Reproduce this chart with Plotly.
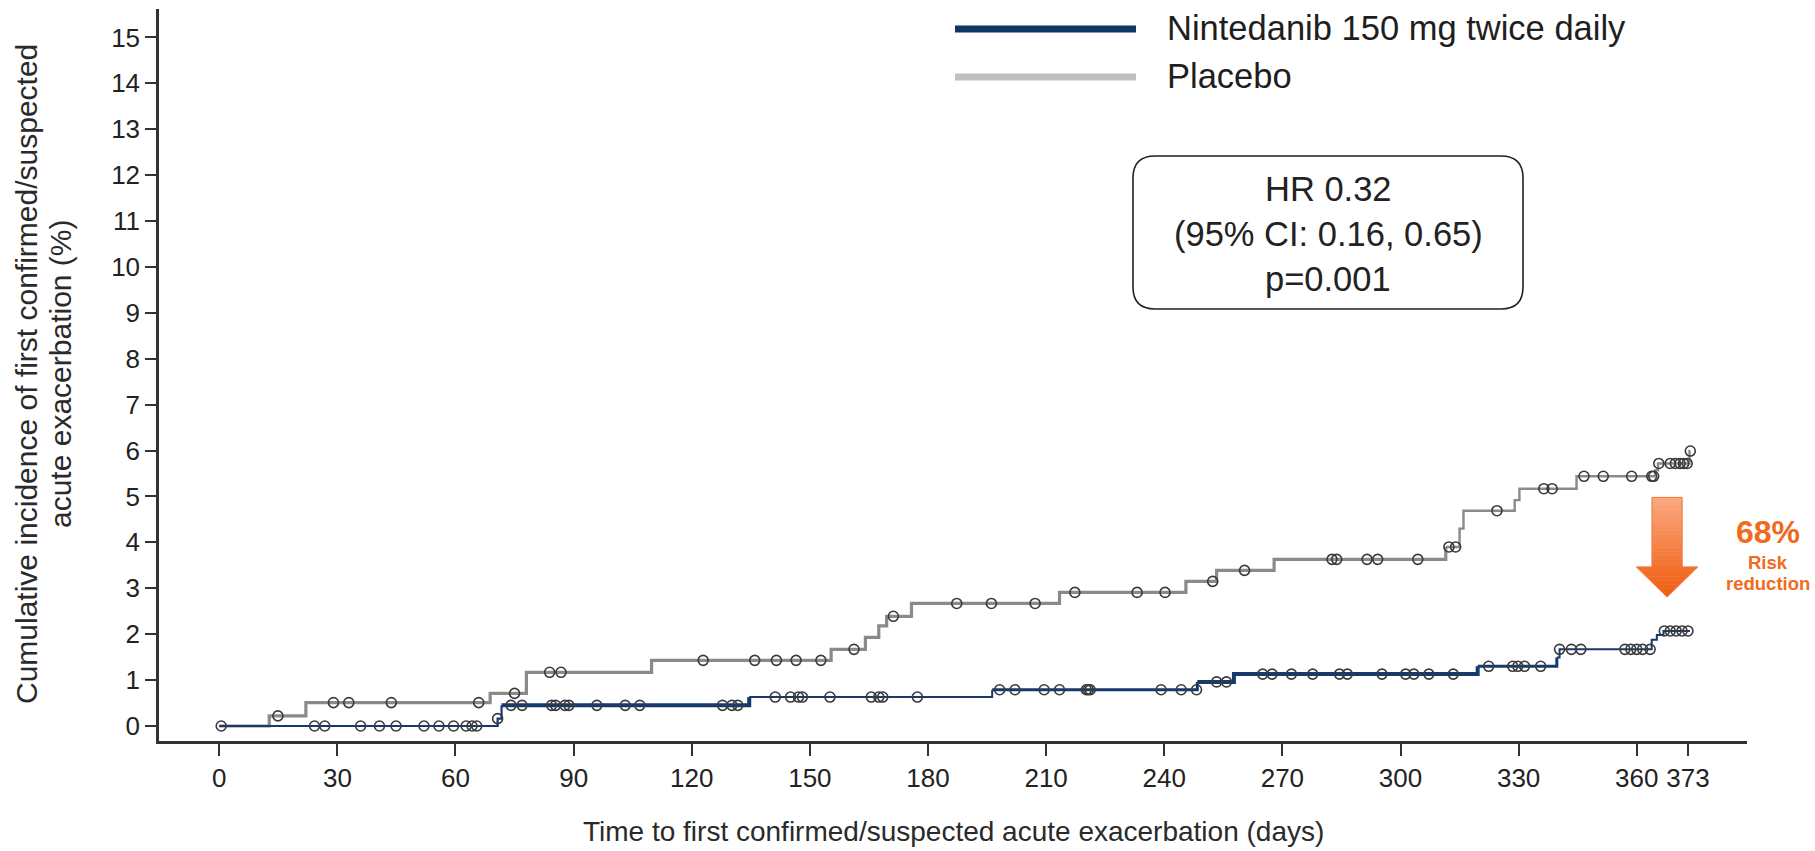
import plotly.graph_objects as go

# ---------------- data ----------------
x_tick_vals = [0, 30, 60, 90, 120, 150, 180, 210, 240, 270, 300, 330, 360, 373]
y_tick_vals = list(range(0, 16))

placebo_name = "Placebo"
placebo_step_days = [12.7, 22, 68.8, 78, 109.8, 155.4, 164.1, 167.5, 169.5, 175.8,
                     213.4, 245.5, 253.3, 267.9, 311.5, 315.0, 316.0, 329.0, 330.2,
                     344.7, 364.7, 365.4, 373.4]
placebo_step_vals = [0.22, 0.51, 0.71, 1.17, 1.43, 1.67, 1.93, 2.18, 2.39, 2.67,
                     2.91, 3.15, 3.39, 3.63, 3.90, 4.30, 4.69, 4.92, 5.17,
                     5.44, 5.57, 5.72, 5.99]
placebo_end_day = 373.6
placebo_censor_days = [14.9, 29, 32.9, 43.7, 65.9, 75, 83.9, 86.8, 122.9, 136.0,
                       141.5, 146.5, 152.8, 161.2, 171.2, 187.3, 196.1, 207.2, 217.3,
                       233.1, 240.2, 252.3, 260.4, 282.6, 283.8, 291.5, 294.2, 304.4,
                       312.3, 314.0, 324.5, 336.4, 338.5, 346.6, 351.5, 358.7, 363.8,
                       364.3, 365.6, 368.5, 369.8, 371.0, 371.9, 372.8, 373.6]

nint_name = "Nintedanib 150 mg twice daily"
nint_step_days = [70.7, 71.7, 134.6, 196.3, 248.4, 257.7, 319.6, 339.7, 340.4,
                  363.8, 365.1, 366.8]
nint_step_vals = [0.16, 0.45, 0.63, 0.79, 0.96, 1.13, 1.30, 1.49, 1.67,
                  1.88, 1.98, 2.07]
nint_end_day = 373.5
nint_censor_days = [0.5, 24.2, 26.8, 35.9, 40.7, 44.9, 52, 55.8, 59.5, 62.7, 64.2,
                    65.4, 70.7, 74.1, 76.9, 84.4, 85.4, 87.8, 88.8, 95.9, 103.1,
                    106.8, 127.8, 130.2, 131.7, 141.2, 145.1, 147.1, 148.1, 155.1,
                    165.6, 167.5, 168.5, 177.3, 198.2, 202.1, 209.5, 213.4, 220.2,
                    220.7, 221.2, 239.2, 244.3, 248.2, 253.3, 255.8, 265, 267.4,
                    272.3, 277.7, 284.5, 286.5, 295.3, 301.3, 303.4, 307.2, 313.4,
                    322.4, 328.5, 329.8, 331.5, 335.6, 340.4, 343.4, 345.8, 357,
                    358.5, 360, 361.5, 363.4, 367, 368.5, 370, 371.5, 373]

stats_lines = ["HR 0.32", "(95% CI: 0.16, 0.65)", "p=0.001"]
risk_pct = "68%"
risk_lines = ["Risk", "reduction"]
# arrow spans from (about) placebo level to nintedanib level at end of follow-up
arrow_day = 367.7
arrow_top_val = 4.98
arrow_tip_val = 2.81

x_title = "Time to first confirmed/suspected acute exacerbation (days)"
y_title_lines = ["Cumulative incidence of first confirmed/suspected",
                 "acute exacerbation (%)"]

# ---------------- styles ----------------
FONT = "Liberation Sans, Arial, Helvetica, sans-serif"
NAVY = "#163a6c"
PLAC = "#8a8a8a"
LEG_NAVY = "#0f3466"
LEG_GREY = "#c0c0c0"
ORANGE = "#F26A1B"
W, H = 1815, 851
L, R, T, B = 159, 1747, 9, 741
PW, PH = R - L, B - T

nint_widths = [(0, 2.2), (71, 4.0), (134, 2.0), (196, 3.0), (248, 4.0), (319, 3.0), (339, 2.0)]
plac_widths = [(0, 3.2), (311, 2.4)]


def pxx(x):
    return (x - L) / PW


def pxy(y):
    return (B - y) / PH


def curve_value(days, vals, t):
    v = 0.0
    for d, val in zip(days, vals):
        if d <= t + 0.05:
            v = val
    return v


def width_for(breaks, t):
    w = breaks[0][1]
    for b, ww in breaks:
        if t >= b:
            w = ww
    return w


def step_traces(days, vals, end_day, color, breaks):
    xs = [0] + list(days) + [end_day]
    ys = [0] + list(vals) + [vals[-1]]
    n_levels = len(xs) - 1
    groups = []
    cur = [0]
    for i in range(1, n_levels):
        if width_for(breaks, xs[i]) == width_for(breaks, xs[cur[0]]):
            cur.append(i)
        else:
            groups.append(cur)
            cur = [i]
    groups.append(cur)
    traces = []
    for g in groups:
        i, j = g[0], g[-1]
        traces.append(go.Scatter(
            x=xs[i:j + 2], y=ys[i:j + 2], mode="lines",
            line=dict(color=color, width=width_for(breaks, xs[i]), shape="hv"),
            hoverinfo="skip", showlegend=False))
    return traces


fig = go.Figure()
for tr in step_traces(placebo_step_days, placebo_step_vals, placebo_end_day, PLAC, plac_widths):
    fig.add_trace(tr)
for tr in step_traces(nint_step_days, nint_step_vals, nint_end_day, NAVY, nint_widths):
    fig.add_trace(tr)

marker_style = dict(symbol="circle-open", size=10, color="#3a3a3a", line=dict(width=1.6, color="#3a3a3a"))
fig.add_trace(go.Scatter(
    x=placebo_censor_days,
    y=[curve_value(placebo_step_days, placebo_step_vals, t) for t in placebo_censor_days],
    mode="markers", marker=marker_style, name=placebo_name + " (censored)", showlegend=False))
fig.add_trace(go.Scatter(
    x=nint_censor_days,
    y=[curve_value(nint_step_days, nint_step_vals, t) for t in nint_censor_days],
    mode="markers", marker=marker_style, name=nint_name + " (censored)", showlegend=False))

shapes = []
annotations = []

# ---- legend drawn manually (long thick lines) ----
for name, col, yy in [(nint_name, LEG_NAVY, 29), (placebo_name, LEG_GREY, 77)]:
    shapes.append(dict(type="line", xref="paper", yref="paper",
                       x0=pxx(955), x1=pxx(1136), y0=pxy(yy), y1=pxy(yy),
                       line=dict(color=col, width=7)))
    annotations.append(dict(text=name, xref="paper", yref="paper", x=pxx(1165), y=pxy(yy - 1),
                            xanchor="left", yanchor="middle", showarrow=False,
                            font=dict(family=FONT, size=34.5, color="#1e1e1e")))

# ---- rounded stats box ----
bx0, bx1, by0, by1 = pxx(1133), pxx(1523), pxy(309), pxy(156)
rx, ry = 22 / PW, 22 / PH
box_path = (f"M {bx0+rx},{by1} L {bx1-rx},{by1} Q {bx1},{by1} {bx1},{by1-ry} "
            f"L {bx1},{by0+ry} Q {bx1},{by0} {bx1-rx},{by0} L {bx0+rx},{by0} "
            f"Q {bx0},{by0} {bx0},{by0+ry} L {bx0},{by1-ry} Q {bx0},{by1} {bx0+rx},{by1} Z")
shapes.append(dict(type="path", xref="paper", yref="paper", path=box_path,
                   line=dict(color="#222222", width=1.6), fillcolor="rgba(255,255,255,0)"))
for k, txt in enumerate(stats_lines):
    annotations.append(dict(text=txt, xref="paper", yref="paper", x=pxx(1328), y=pxy(189 + 45 * k),
                            xanchor="center", yanchor="middle", showarrow=False,
                            font=dict(family=FONT, size=34.5, color="#222222")))

# ---- gradient arrow (data coordinates) ----
px_per_day = PW / (388.0 + 15.3)
px_per_val = PH / (15.62 + 0.327)
shaft_half = 15.0 / px_per_day
head_half = 30.5 / px_per_day
head_start = arrow_tip_val + 30.0 / px_per_val
top_c = (251, 168, 128)
bot_c = (240, 92, 14)
nb = 24


def half_width(v):
    if v >= head_start:
        return shaft_half
    return head_half * (v - arrow_tip_val) / (head_start - arrow_tip_val)


cuts = [arrow_top_val - (arrow_top_val - arrow_tip_val) * k / nb for k in range(nb + 1)]
for k in range(nb):
    v_hi, v_lo = cuts[k], cuts[k + 1]
    pts_v = [v_hi]
    if v_hi > head_start > v_lo:
        pts_v.append(head_start)
    pts_v.append(v_lo)
    left = []
    right = []
    for v in pts_v:
        if v == head_start and v_hi > head_start:
            left.append((arrow_day - shaft_half, v))
            left.append((arrow_day - head_half, v))
            right.append((arrow_day + shaft_half, v))
            right.append((arrow_day + head_half, v))
        else:
            hw = half_width(v) if v < head_start else shaft_half
            if v == head_start:
                hw = head_half
            left.append((arrow_day - hw, v))
            right.append((arrow_day + hw, v))
    poly = left + right[::-1]
    path = "M " + " L ".join(f"{a},{b}" for a, b in poly) + " Z"
    f = (k + 0.5) / nb
    c = tuple(int(round(top_c[i] + (bot_c[i] - top_c[i]) * f)) for i in range(3))
    shapes.append(dict(type="path", xref="x", yref="y", path=path,
                       fillcolor=f"rgb{c}", line=dict(width=0.6, color=f"rgb{c}"), layer="above"))
outline = [(arrow_day - shaft_half, arrow_top_val), (arrow_day + shaft_half, arrow_top_val),
           (arrow_day + shaft_half, head_start), (arrow_day + head_half, head_start),
           (arrow_day, arrow_tip_val), (arrow_day - head_half, head_start),
           (arrow_day - shaft_half, head_start)]
shapes.append(dict(type="path", xref="x", yref="y",
                   path="M " + " L ".join(f"{a},{b}" for a, b in outline) + " Z",
                   line=dict(color="#ef7a3c", width=1), fillcolor="rgba(0,0,0,0)", layer="above"))

annotations.append(dict(text=f"<b>{risk_pct}</b>", xref="paper", yref="paper", x=pxx(1768), y=pxy(532),
                        xanchor="center", yanchor="middle", showarrow=False,
                        font=dict(family=FONT, size=32, color=ORANGE)))
for k, txt in enumerate(risk_lines):
    annotations.append(dict(text=f"<b>{txt}</b>", xref="paper", yref="paper", x=pxx(1768), y=pxy(562 + 21 * k),
                            xanchor="center", yanchor="middle", showarrow=False,
                            font=dict(family=FONT, size=18.5, color=ORANGE)))

# ---- axis titles ----
annotations.append(dict(text=x_title, xref="paper", yref="paper", x=0.5, y=pxy(831),
                        xanchor="center", yanchor="middle", showarrow=False,
                        font=dict(family=FONT, size=28, color="#2a2a2a")))
for k, txt in enumerate(y_title_lines):
    annotations.append(dict(text=txt, xref="paper", yref="paper", x=pxx(26 + 34 * k), y=pxy(374),
                            xanchor="center", yanchor="middle", showarrow=False, textangle=-90,
                            font=dict(family=FONT, size=30, color="#2a2a2a")))

fig.update_layout(
    width=W, height=H,
    margin=dict(l=L, r=W - R, t=T, b=H - B, pad=0),
    paper_bgcolor="white", plot_bgcolor="white",
    showlegend=False,
    shapes=shapes, annotations=annotations,
    font=dict(family=FONT, color="#222222"),
)
fig.update_xaxes(range=[-15.3, 388.0], tickmode="array", tickvals=x_tick_vals,
                 ticktext=[str(v) for v in x_tick_vals],
                 showline=True, linecolor="#333333", linewidth=2.5, mirror=False,
                 ticks="outside", ticklen=12, tickwidth=2, tickcolor="#333333",
                 showgrid=False, zeroline=False,
                 tickfont=dict(family=FONT, size=26, color="#222222"))
fig.update_yaxes(range=[-0.327, 15.62], tickmode="array", tickvals=y_tick_vals,
                 showline=True, linecolor="#333333", linewidth=2.5,
                 ticks="outside", ticklen=11, tickwidth=2, tickcolor="#333333",
                 showgrid=False, zeroline=False,
                 tickfont=dict(family=FONT, size=26, color="#222222"))

fig.write_html("out.html")
